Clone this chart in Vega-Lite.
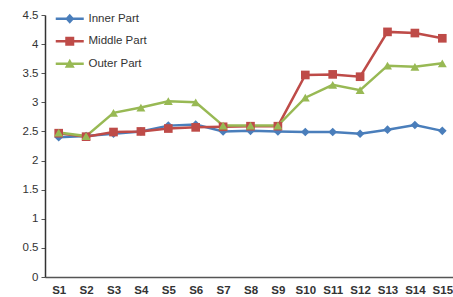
{
  "$schema": "https://vega.github.io/schema/vega-lite/v6.json",
  "autosize": "none",
  "padding": {"left": 45, "top": 15, "right": 0, "bottom": 20},
  "width": 411,
  "height": 262,
  "background": "white",
  "config": {"view": {"stroke": null}, "font": "Liberation Sans"},
  "data": {"values": [
    {"s":"S1","series":"Inner Part","v":2.40},{"s":"S2","series":"Inner Part","v":2.42},{"s":"S3","series":"Inner Part","v":2.46},{"s":"S4","series":"Inner Part","v":2.50},{"s":"S5","series":"Inner Part","v":2.60},{"s":"S6","series":"Inner Part","v":2.62},{"s":"S7","series":"Inner Part","v":2.50},{"s":"S8","series":"Inner Part","v":2.51},{"s":"S9","series":"Inner Part","v":2.50},{"s":"S10","series":"Inner Part","v":2.49},{"s":"S11","series":"Inner Part","v":2.49},{"s":"S12","series":"Inner Part","v":2.46},{"s":"S13","series":"Inner Part","v":2.53},{"s":"S14","series":"Inner Part","v":2.61},{"s":"S15","series":"Inner Part","v":2.51},
    {"s":"S1","series":"Middle Part","v":2.47},{"s":"S2","series":"Middle Part","v":2.41},{"s":"S3","series":"Middle Part","v":2.49},{"s":"S4","series":"Middle Part","v":2.50},{"s":"S5","series":"Middle Part","v":2.55},{"s":"S6","series":"Middle Part","v":2.57},{"s":"S7","series":"Middle Part","v":2.58},{"s":"S8","series":"Middle Part","v":2.59},{"s":"S9","series":"Middle Part","v":2.59},{"s":"S10","series":"Middle Part","v":3.47},{"s":"S11","series":"Middle Part","v":3.48},{"s":"S12","series":"Middle Part","v":3.44},{"s":"S13","series":"Middle Part","v":4.21},{"s":"S14","series":"Middle Part","v":4.19},{"s":"S15","series":"Middle Part","v":4.10},
    {"s":"S1","series":"Outer Part","v":2.48},{"s":"S2","series":"Outer Part","v":2.42},{"s":"S3","series":"Outer Part","v":2.82},{"s":"S4","series":"Outer Part","v":2.91},{"s":"S5","series":"Outer Part","v":3.02},{"s":"S6","series":"Outer Part","v":3.00},{"s":"S7","series":"Outer Part","v":2.60},{"s":"S8","series":"Outer Part","v":2.60},{"s":"S9","series":"Outer Part","v":2.60},{"s":"S10","series":"Outer Part","v":3.08},{"s":"S11","series":"Outer Part","v":3.30},{"s":"S12","series":"Outer Part","v":3.21},{"s":"S13","series":"Outer Part","v":3.63},{"s":"S14","series":"Outer Part","v":3.61},{"s":"S15","series":"Outer Part","v":3.67}
  ]},
  "encoding": {
    "x": {"field": "s", "type": "ordinal", "sort": null, "title": null,
      "scale": {"paddingInner": 0, "paddingOuter": 0.5},
      "axis": {"labelAngle": 0, "ticks": false, "domainColor": "#555555", "domainWidth": 1.5, "labelColor": "#333333", "labelFontSize": 11.5, "labelFontWeight": "bold", "labelPadding": 7, "grid": false}},
    "y": {"field": "v", "type": "quantitative", "title": null,
      "scale": {"domain": [0, 4.5]},
      "axis": {"values": [0,0.5,1,1.5,2,2.5,3,3.5,4,4.5], "format": "~g", "grid": false, "domainColor": "#333333", "domainWidth": 1.5, "tickColor": "#555555", "tickSize": 4, "labelColor": "#333333", "labelFontSize": 11.5, "labelPadding": 3}},
    "color": {"field": "series", "type": "nominal", "title": null,
      "scale": {"domain": ["Inner Part","Middle Part","Outer Part"], "range": ["#4a7ebb","#be4b48","#98b954"]},
      "legend": {"orient": "none", "legendX": 19, "legendY": -2, "padding": 0, "labelFontSize": 11.5, "labelColor": "#333333", "symbolSize": 100, "symbolOpacity": 1, "symbolStrokeWidth": 0, "rowPadding": 9.5, "labelOffset": 13}}
  },
  "layer": [
    {
      "mark": {"type": "point", "filled": true, "opacity": 1, "size": 0},
      "encoding": {
        "shape": {"field": "series", "type": "nominal", "title": null,
          "scale": {"domain": ["Inner Part","Middle Part","Outer Part"], "range": [
            "M-2.8,-0.25L2.8,-0.25L2.8,0.25L-2.8,0.25ZM0,-1L0.9,0L0,1L-0.9,0Z",
            "M-2.8,-0.25L2.8,-0.25L2.8,0.25L-2.8,0.25ZM-0.9,-0.9L0.9,-0.9L0.9,0.9L-0.9,0.9Z",
            "M-2.8,-0.25L2.8,-0.25L2.8,0.25L-2.8,0.25ZM0,-1L1,0.8L-1,0.8Z"]}}
      }
    },
    {"mark": {"type": "line", "strokeWidth": 2.5}},
    {"transform": [{"filter": "datum.series === 'Inner Part'"}], "mark": {"type": "point", "filled": true, "opacity": 1, "size": 75, "shape": "diamond"}},
    {"transform": [{"filter": "datum.series === 'Middle Part'"}], "mark": {"type": "point", "filled": true, "opacity": 1, "size": 75, "shape": "square"}},
    {"transform": [{"filter": "datum.series === 'Outer Part'"}], "mark": {"type": "point", "filled": true, "opacity": 1, "size": 80, "shape": "triangle-up"}}
  ]
}
